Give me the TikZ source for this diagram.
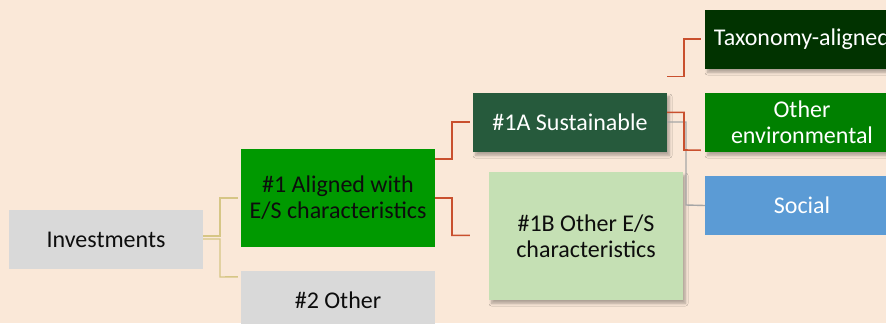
\documentclass[tikz,border=0pt]{standalone}
\usepackage{fontspec}
\setmainfont{Carlito}
\usetikzlibrary{calc,shadows.blur}
\definecolor{bg}{HTML}{FAE8D8}
\definecolor{boxgray}{HTML}{D9D9D9}
\definecolor{algreen}{HTML}{009900}
\definecolor{susgreen}{HTML}{265A3C}
\definecolor{lightgreen}{HTML}{C5E0B4}
\definecolor{taxgreen}{HTML}{013300}
\definecolor{envgreen}{HTML}{008000}
\definecolor{socblue}{HTML}{5B9BD5}
\definecolor{redline}{HTML}{C9502E}
\definecolor{yelline}{HTML}{D6C685}
\definecolor{grayline}{HTML}{A6A6A6}
\definecolor{darktext}{HTML}{0D0D0D}
\begin{document}
\begin{tikzpicture}[x=1bp,y=-1bp,
  box/.style={draw=none,rectangle,minimum width=194bp,align=center,inner sep=0pt,
    font=\fontsize{24bp}{26bp}\selectfont},
  shad/.style={blur shadow={shadow xshift=2.5bp,shadow yshift=-3.5bp,shadow blur steps=6,shadow opacity=30,shadow blur radius=2.5bp}},
  redc/.style={draw=redline,line width=1.6bp},
  yelc/.style={draw=yelline,line width=1.4bp},
  grayc/.style={draw=grayline,line width=1.4bp}]
\useasboundingbox (0,0) rectangle (886,323);
\clip (0,0) rectangle (886,323);
\fill[bg] (0,0) rectangle (886,323);
% nodes
\node[box,fill=boxgray,minimum height=59bp,text=darktext] (inv) at (106,239.5) {Investments};
\node[box,fill=algreen,minimum height=98bp,text=darktext] (al) at (338,198) {\#1 Aligned with\\E/S characteristics};
\node[box,fill=boxgray,minimum height=58bp,text=darktext] (oth) at (338,300) {\#2 Other};
\node[box,shad,fill=susgreen,minimum height=59bp,text=white] (sus) at (570,122.5) {\#1A Sustainable};
\node[box,shad,fill=lightgreen,minimum height=128bp,text=darktext] (oes) at (586,236) {\#1B Other E/S\\characteristics};
\node[box,shad,fill=taxgreen,minimum height=59bp,text=white] (tax) at (802,39.5) {Taxonomy-aligned};
\node[box,shad,fill=envgreen,minimum height=59bp,text=white] (env) at (802,122.5) {Other\\environmental};
\node[box,fill=socblue,minimum height=59bp,text=white] (soc) at (802,205.5) {Social};
% connectors
\draw[yelc] ($(inv.east)+(0,-3.5)$) -| (220,198) -- ($(al.west)+(-3,0)$);
\draw[yelc] ($(inv.east)+(0,-0.5)$) -| (220,277) -- ($(oth.north west)+(-3,6)$);
\draw[redc] ($(al.north east)+(0,10.3)$) -| (452,121.7) -- ($(sus.west)+(-3,-0.8)$);
\draw[redc] (al.east) -| (452,235.3) -- ($(oes.west)+(-19,-0.7)$);
\draw[grayc] ($(sus.east)+(0,-0.5)$) -| (686,205) -- (soc.west);
\draw[redc] ($(sus.north east)+(0,-16.3)$) -| (684,38.7) -- ($(tax.west)+(-4,-0.8)$);
\draw[redc] ($(sus.east)+(0,-10.2)$) -| (684,150) -- ($(env.south west)+(-4,-2)$);
\end{tikzpicture}
\end{document}
